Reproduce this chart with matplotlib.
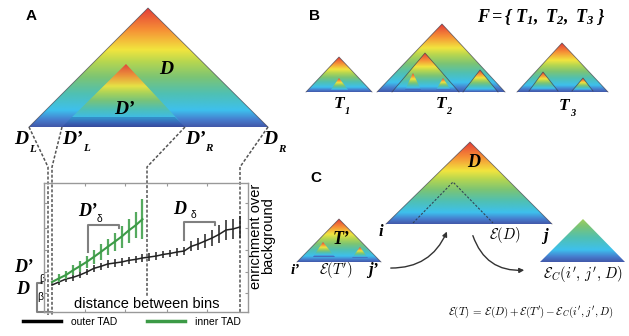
import numpy as np
import matplotlib
matplotlib.use("Agg")
import matplotlib.pyplot as plt
from matplotlib.colors import LinearSegmentedColormap, to_rgb
from matplotlib.patches import Polygon
from matplotlib.lines import Line2D
from matplotlib.ticker import FixedLocator

plt.rcParams["font.family"] = "Liberation Sans"
plt.rcParams["mathtext.fontset"] = "custom"
plt.rcParams["mathtext.it"] = "Liberation Serif:italic:bold"
plt.rcParams["mathtext.rm"] = "Liberation Serif:italic:bold"
plt.rcParams["mathtext.bf"] = "Liberation Serif:italic:bold"

# ── panel A curve data (bin distance vs enrichment) ─────────────────────
bins_outer = np.arange(28)
enrich_outer = [1.35, 1.50, 1.65, 1.73, 1.85, 2.00, 2.18, 2.28, 2.40, 2.45,
                2.50, 2.58, 2.63, 2.70, 2.75, 2.80, 2.88, 2.93, 3.00, 3.05,
                3.28, 3.40, 3.55, 3.70, 3.88, 4.10, 4.15, 4.25]
err_outer = [0.0, 0.16, 0.16, 0.17, 0.17, 0.17, 0.18, 0.18, 0.18, 0.18,
             0.18, 0.18, 0.18, 0.18, 0.18, 0.18, 0.18, 0.18, 0.18, 0.2,
             0.25, 0.3, 0.35, 0.4, 0.45, 0.5, 0.5, 0.55]

bins_inner = np.arange(14)
enrich_inner = [1.50, 1.68, 1.85, 2.08, 2.29, 2.51, 2.75, 3.00, 3.26, 3.51,
                3.77, 4.07, 4.33, 4.64]
err_inner = [0.0, 0.2, 0.22, 0.25, 0.28, 0.3, 0.35, 0.38, 0.4, 0.45,
             0.55, 0.6, 0.65, 1.0]

legend_labels = ["outer TAD", "inner TAD"]

# TAD heat gradient, base (0) -> apex (1)
tad_stops = [0.0, 0.06, 0.14, 0.28, 0.42, 0.55, 0.65, 0.82, 1.0]
tad_colors = ["#2d46a0", "#326ec8", "#28b9eb", "#3cb9aa", "#6ebe64",
              "#afd23c", "#f0e229", "#f5821f", "#e12823"]
soft = [tuple(0.9 * c + 0.1 for c in to_rgb(h)) for h in tad_colors]
cmap = LinearSegmentedColormap.from_list("tad", list(zip(tad_stops, soft)))

W, H = 629, 336
fig = plt.figure(figsize=(W / 100, H / 100), dpi=100)
ax = fig.add_axes([0, 0, 1, 1])
ax.axis("off")


def tad(x0, x1, xa, ya, yb, top=1.0, alpha=1.0, edge=True, z=1):
    grad = np.linspace(top, 0, 256)[:, None]
    im = ax.imshow(grad, cmap=cmap, vmin=0, vmax=1, extent=(x0, x1, yb, ya),
                   aspect="auto", alpha=alpha, zorder=z, interpolation="bilinear")
    tri = Polygon([(x0, yb), (xa, ya), (x1, yb)], closed=True, fc="none", ec="none")
    ax.add_patch(tri)
    im.set_clip_path(tri)
    if edge:
        ax.plot([x0, xa, x1], [yb, ya, yb], color="#3a3a4a", lw=0.6, alpha=0.7,
                zorder=z + 0.1)


def lab(x, y, s, size, sub=None, sx=0, sy=0, subsize=8, greek=False):
    ax.text(x, y, s, fontsize=size, family="Liberation Serif", weight="bold",
            style="italic", ha="center", va="center", zorder=6)
    if sub:
        if greek:
            ax.text(x + sx, y + sy, sub, fontsize=subsize, family="Liberation Sans",
                    ha="center", va="center", zorder=6)
        else:
            ax.text(x + sx, y + sy, sub, fontsize=subsize, family="Liberation Serif",
                    weight="bold", style="italic", ha="center", va="center", zorder=6)


def panel(x, y, s):
    ax.text(x, y, s, fontsize=11, weight="bold", ha="center", va="center")


dash = dict(color="#555555", lw=1.1, ls=(0, (2, 1.2)), zorder=2)

# ── panel A ─────────────────────────────────────────────────────────────
panel(31.5, 15.5, "A")
tad(29, 268, 148, 8, 127)
tad(62, 185, 126, 64, 127, alpha=0.92, edge=False, z=1.5)
ax.add_patch(Polygon([(62, 127), (185, 127), (175, 117), (72, 117)],
                     fc="#1c2a80", ec="none", alpha=0.3, zorder=1.6))
lab(166, 70, "D", 14)
lab(124, 110, "D’", 14)
lab(21, 140, "D", 14, "L", 11, 9)
lab(72.5, 140, "D’", 14, "L", 13.5, 8.5)
lab(195, 140, "D’", 14, "R", 13.5, 8.5)
lab(270, 140, "D", 14, "R", 12, 9)

ax.plot([29, 48, 48], [127, 167, 315], **dash)
ax.plot([62, 52, 52], [127, 167, 315], **dash)
ax.plot([185, 147, 147], [127, 167, 296], **dash)
ax.plot([268, 240, 240], [127, 167, 313], **dash)

br = dict(color="#808080", lw=1.5, zorder=5)
ax.plot([88, 88, 119, 119], [252, 225, 225, 228], **br)
ax.plot([184, 184, 215, 215], [240, 222, 222, 225], **br)
ax.plot([42, 37, 37, 52], [283, 283, 312, 312], **br)
lab(88, 211, "D’", 13, "δ", 11.5, 8.5, subsize=7.5, greek=True)
lab(179.5, 210, "D", 13, "δ", 14, 5, subsize=7.5, greek=True)
lab(24, 268, "D’", 13, "β", 18.5, 10.5, subsize=7.5, greek=True)
lab(22.5, 289, "D", 13, "β", 18, 7.5, subsize=7.5, greek=True)

ax.text(147, 304, "distance between bins", fontsize=10.5, ha="center", va="center",
        zorder=6)
ax.text(262, 236, "enrichment over\nbackground", fontsize=10.5, rotation=90,
        ha="center", va="center", multialignment="center", linespacing=0.85)

# ── panel B ─────────────────────────────────────────────────────────────
panel(314.5, 15.5, "B")
ax.text(541, 17, r"$F=\{\ T_1,\ T_2,\ T_3\ \}$", fontsize=13, ha="center",
        va="center", math_fontfamily="custom")
tad(306, 372, 339, 57, 92)
tad(330, 349, 339, 78, 91, edge=False, z=1.5)
tad(377, 505, 442, 24, 92)
tad(392, 459, 425, 53, 92, z=1.5)
tad(405, 421, 413, 73, 90, edge=False, z=2)
tad(436, 451, 443, 78, 90, edge=False, z=2)
tad(463, 498, 480, 70, 92, z=1.5)
tad(517, 608, 562, 43, 92)
tad(529, 558, 543, 72, 91, z=1.5)
tad(572, 593, 583, 78, 91, z=1.5)
lab(339, 104, "T", 12.5, "1", 8, 7, subsize=7.5)
lab(441, 104, "T", 12.5, "2", 8, 7, subsize=7.5)
lab(564, 106, "T", 12.5, "3", 9, 7, subsize=7.5)

# ── panel C ─────────────────────────────────────────────────────────────
panel(316, 178.5, "C")
tad(386, 552, 470, 142, 224)
ax.plot([413, 453, 493], [223, 182, 223], color="#334455", lw=0.8,
        ls=(0, (2, 1.5)), zorder=3)
tad(297, 381, 339, 219, 262)
tad(313, 335, 323, 242, 257, edge=False, z=1.5)
tad(352, 368, 360, 247, 258, edge=False, z=1.5)
tad(540, 625, 583, 219, 262, top=0.5, edge=False)
lab(474, 162.5, "D", 13)
lab(341, 239, "T’", 13)
lab(381, 232, "i", 12)
lab(545, 236, "j", 12)
lab(295, 270, "i’", 11)
lab(373, 270, "j’", 12)
ax.text(505, 235, r"$\mathcal{E}(D)$", fontsize=10.5, ha="center", va="center",
        math_fontfamily="cm")
ax.text(336, 270, r"$\mathcal{E}(T')$", fontsize=10.5, ha="center", va="center",
        math_fontfamily="cm")
ax.text(583, 274, r"$\mathcal{E}_C(i',\,j',\,D)$", fontsize=10.5, ha="center",
        va="center", math_fontfamily="cm")
ax.text(531, 312,
        r"$\mathcal{E}(T)\,{=}\,\mathcal{E}(D)\,{+}\,\mathcal{E}(T')\,{-}\,\mathcal{E}_C(i',j',D)$",
        fontsize=7.9, ha="center", va="center", math_fontfamily="cm")
arw = dict(arrowstyle="-|>", color="#333333", lw=1, mutation_scale=7)
ax.annotate("", xy=(448, 229), xytext=(388, 268),
            arrowprops=dict(connectionstyle="arc3,rad=0.35", **arw))
ax.annotate("", xy=(527, 270), xytext=(472, 233),
            arrowprops=dict(connectionstyle="arc3,rad=0.4", **arw))

ax.set_xlim(0, W)
ax.set_ylim(H, 0)

# ── panel A inset plot ──────────────────────────────────────────────────
pax = fig.add_axes([44 / W, (H - 312) / H, 204 / W, 129 / H])
pax.set_facecolor("none")
pax.errorbar(bins_outer, enrich_outer, yerr=err_outer, color="#222222", lw=1.1,
             elinewidth=1.1, capsize=0, zorder=3)
pax.errorbar(bins_inner, enrich_inner, yerr=err_inner, color="#3c9a46",
             ecolor="#55aa5f", lw=1.5, elinewidth=1.6, capsize=0, zorder=4)
pax.set_xlim(-1.15, 28.16)
pax.set_ylim(0, 6.45)
for s in pax.spines.values():
    s.set_color("#999999")
    s.set_linewidth(1)
pax.xaxis.set_major_locator(FixedLocator([4.74, 10.5, 16.5, 22.3]))
pax.yaxis.set_major_locator(FixedLocator([0.95, 2.0, 3.1, 4.2, 5.45]))
pax.tick_params(direction="in", length=2.5, color="#999999", labelleft=False,
                labelbottom=False, top=True, right=True)

handles = [Line2D([], [], color="black", lw=2.5), Line2D([], [], color="#3c9a46", lw=2.5)]
fig.legend(handles, legend_labels, loc="center left",
           bbox_to_anchor=(23 / W, 1 - 322 / H), ncol=2, frameon=False,
           fontsize=7.5, handlelength=3.6, handletextpad=1.0, columnspacing=2.9,
           borderpad=0, borderaxespad=0)

fig.savefig("out.png", dpi=100)
